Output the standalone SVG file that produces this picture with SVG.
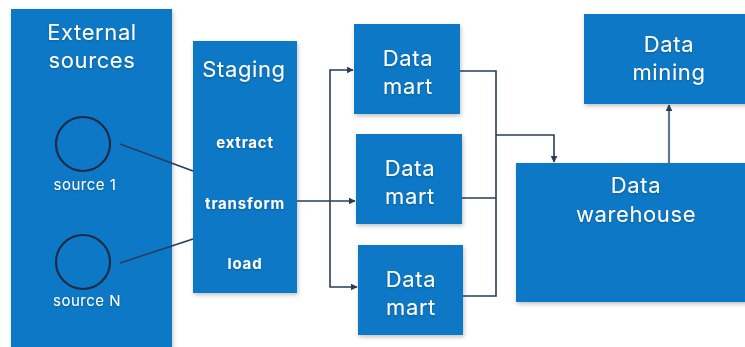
<svg xmlns="http://www.w3.org/2000/svg" width="745" height="347" viewBox="0 0 745 347">
  <defs>
    <filter id="shadow" x="-10%" y="-10%" width="130%" height="130%">
      <feDropShadow dx="1" dy="2" stdDeviation="2" flood-color="#000" flood-opacity="0.25"/>
    </filter>
    <filter id="tshadow" x="-10%" y="-20%" width="120%" height="150%">
      <feDropShadow dx="0" dy="1" stdDeviation="1" flood-color="#003a66" flood-opacity="0.5"/>
    </filter>
    <marker id="arrow" viewBox="0 0 10 10" refX="9" refY="5" markerWidth="7" markerHeight="7" orient="auto" markerUnits="userSpaceOnUse">
      <path d="M0,0 L10,5 L0,10 z" fill="#2a3d58"/>
    </marker>
  </defs>
  <style>
    .box { fill: #0979c6; filter: url(#shadow); }
    .title { font-family: Inter, "Liberation Sans", sans-serif; font-size: 22px; letter-spacing: 0.6px; fill: #ffffff; text-anchor: middle; filter: url(#tshadow); }
    .step { font-family: Inter, "Liberation Sans", sans-serif; font-size: 15px; font-weight: 700; letter-spacing: 0.8px; fill: #ffffff; text-anchor: middle; filter: url(#tshadow); }
    .small { font-family: Inter, "Liberation Sans", sans-serif; font-size: 15px; letter-spacing: 0.5px; fill: #ffffff; text-anchor: middle; filter: url(#tshadow); }
    .src { fill: none; stroke: #1d2b48; stroke-width: 2.2; }
    .link { fill: none; stroke: #2a3d58; stroke-width: 1.6; }
    .link-up { fill: none; stroke: #5d7891; stroke-width: 2.2; }
  </style>
  <rect width="745" height="347" fill="#ffffff"/>

  <g id="external-sources">
    <rect class="box" x="11" y="9" width="161" height="345"/>
    <text class="title" x="92" y="40">External</text>
    <text class="title" x="92" y="68">sources</text>
    <circle class="src" cx="83" cy="144" r="27"/>
    <text class="small" x="85" y="190">source 1</text>
    <circle class="src" cx="83" cy="262" r="27"/>
    <text class="small" x="87" y="306">source N</text>
  </g>

  <g id="staging">
    <rect class="box" x="193" y="41" width="104" height="252"/>
    <text class="title" x="244" y="77">Staging</text>
    <text class="step" x="245" y="148">extract</text>
    <text class="step" x="245" y="209">transform</text>
    <text class="step" x="245" y="269">load</text>
  </g>

  <g id="data-mart-1">
    <rect class="box" x="354" y="24" width="106" height="90"/>
    <text class="title" x="408" y="66">Data</text>
    <text class="title" x="408" y="94">mart</text>
  </g>
  <g id="data-mart-2">
    <rect class="box" x="356" y="134" width="106" height="90"/>
    <text class="title" x="410" y="176">Data</text>
    <text class="title" x="410" y="204">mart</text>
  </g>
  <g id="data-mart-3">
    <rect class="box" x="358" y="245" width="105" height="90"/>
    <text class="title" x="411" y="287">Data</text>
    <text class="title" x="411" y="315">mart</text>
  </g>

  <g id="data-warehouse">
    <rect class="box" x="516" y="163" width="232" height="139"/>
    <text class="title" x="636" y="193">Data</text>
    <text class="title" x="636" y="222">warehouse</text>
  </g>

  <g id="data-mining">
    <rect class="box" x="584" y="14" width="164" height="90"/>
    <text class="title" x="669" y="52">Data</text>
    <text class="title" x="669" y="80">mining</text>
  </g>

  <g id="connectors">
    <!-- sources into staging -->
    <line class="link" x1="120" y1="144" x2="193" y2="171"/>
    <line class="link" x1="120" y1="263" x2="193" y2="239"/>
    <!-- staging fan-out to the marts -->
    <line class="link" x1="297" y1="201" x2="355" y2="201" marker-end="url(#arrow)"/>
    <polyline class="link" points="330,201 330,70 353,70" marker-end="url(#arrow)"/>
    <polyline class="link" points="330,201 330,287 357,287" marker-end="url(#arrow)"/>
    <!-- marts merge into the warehouse -->
    <polyline class="link" points="460,71 496,71 496,296 463,296"/>
    <line class="link" x1="462" y1="198" x2="496" y2="198"/>
    <polyline class="link" points="496,135 554,135 554,162" marker-end="url(#arrow)"/>
    <!-- warehouse feeds mining -->
    <line class="link-up" x1="669" y1="163" x2="669" y2="105" marker-end="url(#arrow)"/>
  </g>
</svg>
